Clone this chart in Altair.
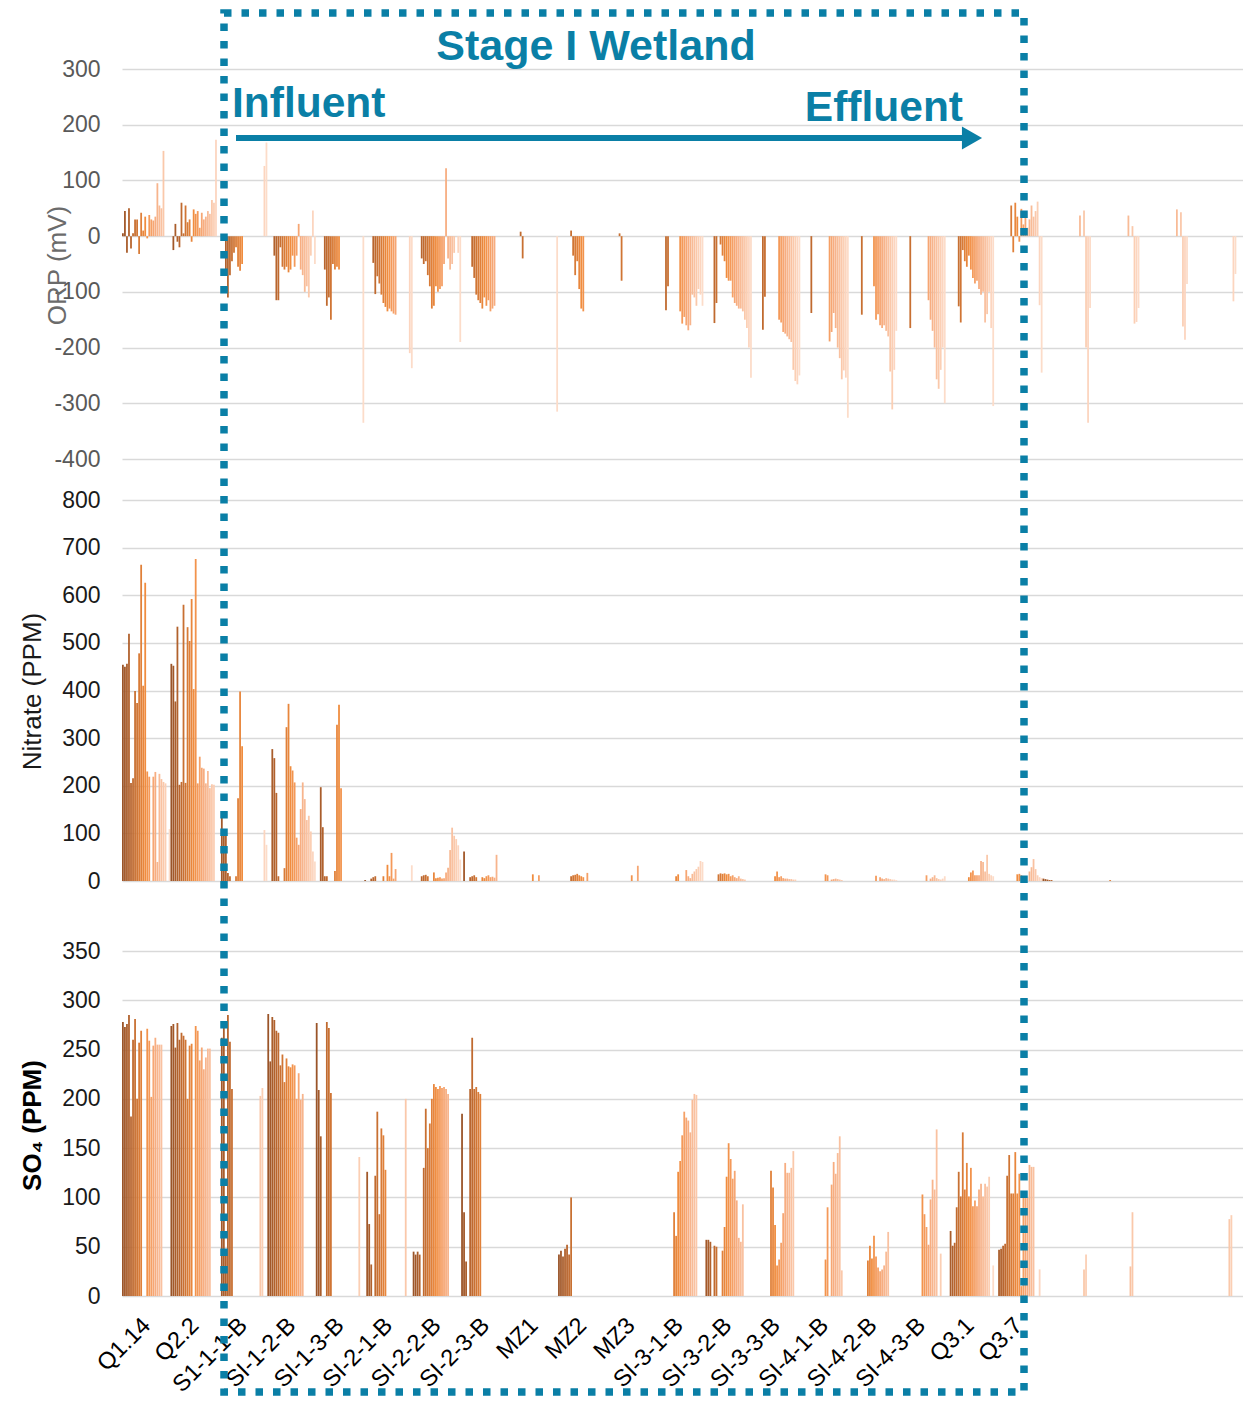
import altair as alt
import pandas as pd

N = None
FONT = "Liberation Sans"
BLUE = "#0a7fa6"

CATEGORIES = ["Q1.14", "Q2.2", "S1-1-1-B", "SI-1-2-B", "SI-1-3-B", "SI-2-1-B", "SI-2-2-B",
              "SI-2-3-B", "MZ1", "MZ2", "MZ3", "SI-3-1-B", "SI-3-2-B", "SI-3-3-B", "SI-4-1-B",
              "SI-4-2-B", "SI-4-3-B", "Q3.1", "Q3.7", "_19", "_20", "_21", "_22", "_23"]
N_SLOTS = 24  # sampling events per location (dark = early, light = late)

ORP = [
    [5, 45, -30, 50, -22, 5, 30, 30, -32, 42, 10, 35, -4, 38, 30, 28, 35, 95, 55, 50, 153, N, N, N],
    [N, -25, 22, -10, -20, 60, 5, 55, 25, 30, -10, 48, 40, 45, 15, 42, 30, 35, 45, 40, 65, 60, 173, N],
    [N, N, N, -65, -110, -70, -45, -30, -20, -55, -62, -50] + [N] * 10 + [126, 168],
    [N, N, N, -35, -115, -115, -20, -55, -60, -55, -65, -60, -35, -55, -35, 22, -60, -70, -100, -90, -110, -35, 46, -50],
    [N] * 4 + [-60, -125, -110, -150, -50, -60, -55, -60] + [N] * 11 + [-335],
    [N] * 4 + [-48, -104, -72, -85, -105, -120, -127, -135, -130, -135, -139, -141] + [N] * 6 + [-210, -237],
    [N] * 4 + [-40, -50, -45, -70, -90, -130, -125, -90, -100, -95, -90, -50, 122, -40, -60, -50, -30, N, -30, -190],
    [N] * 5 + [-55, -75, -105, -115, -120, -130, -110, -125, -115, -135, -130, -125] + [N] * 7,
    [N] * 5 + [8, -40] + [N] * 16 + [-315],
    [N] * 6 + [10, -35, -70, -45, -95, -130, -135] + [N] * 11,
    [N] * 6 + [5, -80] + [N] * 16,
    [N] * 5 + [-133, -90] + [N] * 5 + [-135, -157, -145, -160, -169, -160, -105, -110, -125, -95, -105, -125],
    [N] * 5 + [-156, -120, N, -15, -35, -45, -75, -80, -80, -110, -120, -125, -130, -130, -135, -150, -165, -200, -254],
    [N] * 5 + [-168, -109] + [N] * 6 + [-150, -155, -172, -175, -180, -185, -190, -240, -260, -266, -250],
    [N] * 5 + [-138] + [N] * 8 + [-189, -172, -138, -165, -200, -219, -257, -241, -254, -326],
    [N] * 6 + [-141] + [N] * 5 + [-90, -150, -140, -160, -165, -160, -170, -180, -243, -311, -240, -170],
    [N] * 6 + [-165] + [N] * 8 + [-115, -150, -170, -200, -257, -274, -240, -200, -300],
    [N] * 6 + [-126, -155, -25, -45, -55, -35, -60, -75, -85, -80, -95, -105, -100, -155, -140, -100, -165, -305],
    [N] * 8 + [55, -29, 60, 35, -10, 49, 21, 37, 15, 30, 55, 35, 45, 62, -124, -245],
    [N] * 18 + [37, N, 46, -200, -335, -129],
    [N] * 18 + [37, N, 18, -157, -154, -129],
    [N] * 18 + [48, N, 43, -162, -186, -86],
    [N] * 22 + [-117, -68],
    [N] * 24,
]

NITRATE = [
    [454, 450, 456, 519, 206, 216, 399, 374, 478, 664, 410, 626, 230, 219, N, 219, 229, 40, 225, 214, 208, 205, N, 109],
    [456, 452, 377, 534, 202, 208, 580, 206, 533, 504, 592, 403, 676, 205, 261, 238, 236, 205, 231, 195, 203, 202, N, N],
    [N, 143, 107, 101, 17, 10, N, N, 10, 174, 398, 283] + [N] * 10 + [107, 76],
    [N, N, 277, 258, 185, 10, N, N, 27, 323, 372, 241, 232, 207, 91, 76, 151, 207, 172, 128, 137, 104, 62, 41],
    [N, N, 197, 113, 10, 10, N, N, N, 21, 328, 370, 195] + [N] * 11,
    [2, N, N, 5, 8, 10, N, N, N, 10, N, 34, 10, 59, 5, 25] + [N] * 7 + [33],
    [N] * 4 + [10, 12, 13, 10, N, N, 18, 6, 7, 8, 5, 6, 18, 28, 65, 112, 95, 88, 75, 45],
    [N, 62, N, N, 8, 10, 12, 8, N, N, 8, 6, 10, 12, 8, 9, 7, 55] + [N] * 6,
    [N] * 11 + [14, N, N, 12] + [N] * 9,
    [N] * 6 + [10, 12, 13, 15, 12, 10, 8, N, 17] + [N] * 9,
    [N] * 12 + [12, N, N, 32] + [N] * 8,
    [N] * 10 + [10, 14, N, N, N, 23, 10, 6, 15, 20, 25, 30, 42, 40],
    [N] * 7 + [14, 16, 15, 16, 14, 15, 10, 12, 8, 6, 10, 5, 4, 3] + [N] * 3,
    [N] * 11 + [10, 20, 8, 10, 6, 5, 5, 4, 4, 3, 3] + [N] * 2,
    [N] * 12 + [14, 12, N, 3, 4, 5, 4, 3, 2] + [N] * 3,
    [N] * 13 + [11, N, 8, 5, 4, 6, 5, 4, 3, 3, 2],
    [N] * 14 + [12, N, 5, 8, 12, 6, 4, 3, 5, 10],
    [N] * 11 + [8, 18, 22, 12, 12, 12, 42, 40, 20, 55, 15, 12, 10],
    [N] * 11 + [14, 15, 12, N, N, N, 20, 29, 46, 25, 12, 8, 6],
    [5, 4, 3, 2, 2] + [N] * 19,
    [N] * 9 + [2] + [N] * 14,
    [N] * 24,
    [N] * 24,
    [N] * 24,
]

SO4 = [
    [278, 273, 276, 285, 182, 260, 281, 200, 257, 269, N, N, 271, 259, 202, 254, 262, 255, 255, 255, N, N, N, N],
    [274, 276, 252, 277, 260, 267, 264, 260, 200, 254, 256, N, 274, 269, 239, 252, 230, 242, 251, 251, N, N, N, N],
    [N, 262, 275, 43, 285, 258, 210] + [N] * 13 + [203, 211, N, N],
    [286, 238, 283, 280, 269, 267, 234, 245, 217, 241, 233, 232, 235, 234, 200, 226, 199, 205] + [N] * 6,
    [277, 209, 162, N, N, 278, 272, 206] + [N] * 13 + [141, N, N],
    [N, 126, 73, 32, N, 122, 187, 83, 170, 163, 128] + [N] * 9 + [200, N, N, N],
    [45, 42, 45, 42, N, 130, 190, 150, 175, 200, 215, 212, 210, 213, 211, 212, 210, 205] + [N] * 6,
    [185, 85, 35, N, 210, 262, 210, 212, 207, 205] + [N] * 14,
    [N] * 24,
    [42, 46, 40, 48, 52, 42, 100] + [N] * 17,
    [N] * 24,
    [N] * 9 + [85, 61, 126, 137, 163, 187, 181, 178, 166, 199, 205, 204] + [N] * 3,
    [N, 57, 57, 55, N, 51, 50, N, N, 46, 70, 121, 155, 139, 119, 127, 97, 59, 55, 93, N, N, N, N],
    [N] * 9 + [127, 110, 72, 31, 37, 54, 84, 135, 125, 125, 130, 147] + [N] * 3,
    [N] * 12 + [37, 90, N, 113, 136, 124, 145, 162, 26] + [N] * 3,
    [N] * 9 + [36, 51, 38, 61, 40, 29, 25, 27, 31, 45, 65] + [N] * 4,
    [N] * 12 + [103, 83, 70, 52, 98, 118, 108, 169, N, 43] + [N] * 2,
    [N, N, 66, 51, 54, 90, 126, 101, 166, 108, 135, 101, 130, 91, 97, 91, 108, 114, 101, 114, 111, 121, N, 31],
    [N, N, 47, 48, 51, 53, 122, 143, 104, 104, 146, 104, 124, 10, 100, 100, 100, 133, 131, 131, N, N, 27, N],
    [N] * 20 + [27, 42, N, N],
    [N] * 19 + [30, 85, N, N, N],
    [N] * 24,
    [N] * 20 + [78, 82, N, N],
    [N] * 24,
]

ORP_TICKS = [-400, -300, -200, -100, 0, 100, 200, 300]
NITRATE_TICKS = [0, 100, 200, 300, 400, 500, 600, 700, 800]
SO4_TICKS = [0, 50, 100, 150, 200, 250, 300, 350]

rows = []
for panel, table in (("ORP", ORP), ("Nitrate", NITRATE), ("SO4", SO4)):
    for cat, vals in zip(CATEGORIES, table):
        vals = (list(vals) + [None] * N_SLOTS)[:N_SLOTS]
        for slot, v in enumerate(vals):
            if v is not None:
                rows.append({"panel": panel, "cat": cat, "slot": slot, "value": v})
df = pd.DataFrame(rows)

PLOT_W = 1121
PLOT_H = 1284
BAND = 48.45

x_enc = alt.X(
    "cat:N", sort=CATEGORIES,
    scale=alt.Scale(domain=CATEGORIES, range=[0, BAND * len(CATEGORIES)], paddingInner=0, paddingOuter=0),
    axis=alt.Axis(title=None, labelAngle=-45, labelAlign="right", labelBaseline="top",
                  labelFontSize=23.5, labelFont=FONT, labelColor="#000000", ticks=False,
                  domain=False, grid=False, labelPadding=17, labelOffset=-8,
                  labelOverlap=False, labelBound=False,
                  labelExpr="slice(datum.value, 0, 1) == '_' ? '' : datum.value"),
)
xo_enc = alt.XOffset("slot:O", scale=alt.Scale(domain=list(range(N_SLOTS)), paddingInner=0.12, paddingOuter=0))
color_enc = alt.Color(
    "slot:Q",
    scale=alt.Scale(domain=[0, 5, 11, 17, 23],
                    range=["#9a5428", "#c06a2f", "#f08c3e", "#f7b48c", "#fcdcc9"]),
    legend=None,
)

HYPHEN_LABEL = "datum.value < 0 ? '-' + abs(datum.value) : '' + datum.value"


def panel(name, domain, rng, ticks, title, title_y, title_x, label_color, title_color, title_weight):
    return alt.Chart(df).transform_filter(alt.datum.panel == name).mark_bar(clip=True).encode(
        x=x_enc,
        xOffset=xo_enc,
        y=alt.Y("value:Q",
                scale=alt.Scale(domain=domain, range=rng, nice=False, zero=False),
                axis=alt.Axis(orient="left", values=ticks, grid=True, gridColor="#d9d9d9",
                              gridWidth=1.5, domain=False, ticks=False, labelPadding=22,
                              labelFontSize=23, labelFont=FONT, labelColor=label_color,
                              labelExpr=HYPHEN_LABEL,
                              title=title, titleFont=FONT, titleFontSize=26,
                              titleColor=title_color, titleFontWeight=title_weight,
                              titleX=title_x, titleY=title_y, titleAngle=270,
                              titleBaseline="middle", titleAlign="center")),
        y2=alt.datum(0),
        color=color_enc,
    )


orp = panel("ORP", [-400, 300], [447, 57], ORP_TICKS, "ORP (mV)", 253, -65,
            "#595959", "#6b6b6b", "normal")
nit = panel("Nitrate", [0, 800], [869, 488], NITRATE_TICKS, "Nitrate (PPM)", 679, -90,
            "#1a1a1a", "#1a1a1a", "normal")
so4 = panel("SO4", [0, 350], [1284, 939], SO4_TICKS, "SO\u2084 (PPM)", 1113, -90,
            "#1a1a1a", "#000000", "bold")

one = pd.DataFrame({"k": [0]})
box = alt.Chart(one).mark_rect(fillOpacity=0, stroke=BLUE, strokeWidth=7.5,
                               strokeDash=[7.5, 10]).encode(
    x=alt.value(102), x2=alt.value(902), y=alt.value(1), y2=alt.value(1380))
arrow_line = alt.Chart(one).mark_rule(color=BLUE, strokeWidth=6).encode(
    x=alt.value(114), x2=alt.value(842), y=alt.value(126))
arrow_head = alt.Chart(one).mark_point(shape="triangle-right", filled=True, size=540,
                                       color=BLUE, opacity=1).encode(
    x=alt.value(850), y=alt.value(126))


def label(text, x, y, align, size):
    return alt.Chart(one).mark_text(text=text, font=FONT, fontSize=size, fontWeight="bold",
                                    color=BLUE, align=align, baseline="alphabetic").encode(
        x=alt.value(x), y=alt.value(y))


chart = alt.layer(
    orp, nit, so4, box, arrow_line, arrow_head,
    label("Stage I Wetland", 474, 48, "center", 43),
    label("Influent", 110, 105, "left", 42.5),
    label("Effluent", 841, 109, "right", 42.5),
).resolve_scale(y="independent").properties(
    width=PLOT_W, height=PLOT_H,
    autosize=alt.AutoSizeParams(type="none"),
    padding={"left": 114, "top": 4, "right": 0, "bottom": 100},
).configure_view(stroke=None)

chart.save("out.html", embed_options={"renderer": "svg", "actions": False})
